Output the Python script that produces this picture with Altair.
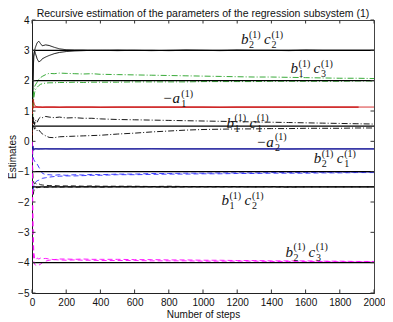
import altair as alt
import pandas as pd

# ---------------- data ----------------
steps = [0, 3, 6, 10, 15, 20, 30, 40, 50, 60, 80, 100, 130, 160, 200, 250, 300, 350,
         400, 500, 600, 700, 800, 900, 1000, 1100, 1200, 1300, 1400, 1500, 1600,
         1700, 1800, 1900, 2000]

b2c2_a = [0, 1.0, 2.0, 2.8, 3.0, 3.1, 3.25, 3.3, 3.22, 3.15, 3.18, 3.16, 3.1, 3.05, 3.02,
          3.01, 3.01, 3.0, 3.0, 3.01, 3.0, 2.99, 3.0, 3.01, 3.0, 3.0, 3.01, 3.0, 3.0, 3.0,
          3.01, 3.0, 3.0, 3.0, 3.0]
b2c2_b = [0, 1.0, 2.0, 2.8, 3.0, 2.9, 2.72, 2.62, 2.65, 2.72, 2.78, 2.83, 2.89, 2.93, 2.96,
          2.98, 2.99, 3.0, 3.0, 2.99, 3.0, 3.0, 2.99, 3.0, 3.0, 2.99, 3.0, 3.0, 3.0, 2.99,
          3.0, 3.0, 3.0, 3.0, 3.0]
b1c3_a = [0, 0.8, 1.4, 1.7, 1.8, 1.86, 1.95, 2.05, 2.1, 2.14, 2.2, 2.24, 2.23, 2.25, 2.24,
          2.23, 2.22, 2.23, 2.21, 2.2, 2.19, 2.18, 2.17, 2.16, 2.15, 2.14, 2.13, 2.12, 2.12,
          2.11, 2.1, 2.09, 2.08, 2.08, 2.07]
b1c3_b = [0, 0.6, 1.1, 1.4, 1.6, 1.7, 1.78, 1.84, 1.88, 1.9, 1.92, 1.93, 1.93, 1.94, 1.94,
          1.95, 1.94, 1.95, 1.95, 1.95, 1.96, 1.96, 1.96, 1.96, 1.97, 1.97, 1.97, 1.97, 1.98,
          1.98, 1.98, 1.98, 1.98, 1.99, 1.99]
neg_a1 = [0, 1.0, 1.38, 1.3, 1.2, 1.16, 1.14, 1.13, 1.13, 1.12, 1.13, 1.13, 1.13, 1.12, 1.13,
          1.13, 1.13, 1.13, 1.12, 1.13, 1.13, 1.13, 1.13, 1.13, 1.13, 1.12, 1.13, 1.13, 1.13,
          1.13, 1.13, 1.13, 1.13, 1.13, 1.13]
b1c1_a = [0, 0.9, 0.6, 0.75, 0.55, 0.7, 0.62, 0.75, 0.8, 0.78, 0.82, 0.8, 0.78, 0.8, 0.77,
          0.78, 0.76, 0.76, 0.74, 0.72, 0.71, 0.7, 0.69, 0.68, 0.67, 0.66, 0.65, 0.64, 0.63,
          0.62, 0.61, 0.6, 0.59, 0.58, 0.57]
b1c1_b = [0, 0.3, 0.8, 0.5, 0.4, 0.45, 0.35, 0.38, 0.3, 0.25, 0.18, 0.13, 0.12, 0.15, 0.16,
          0.17, 0.18, 0.19, 0.2, 0.24, 0.27, 0.31, 0.34, 0.37, 0.39, 0.4, 0.41, 0.41, 0.42,
          0.42, 0.43, 0.43, 0.43, 0.44, 0.44]
neg_a2 = [0, -0.5, -0.15, -0.3, -0.27, -0.24, -0.25, -0.26, -0.25, -0.25, -0.24, -0.25, -0.25,
          -0.25, -0.26, -0.25, -0.25, -0.25, -0.25, -0.25, -0.25, -0.24, -0.25, -0.25, -0.25,
          -0.25, -0.25, -0.25, -0.25, -0.26, -0.25, -0.25, -0.25, -0.25, -0.25]
b2c1_a = [0, -0.4, -0.5, -0.6, -0.65, -0.7, -0.75, -0.85, -0.95, -1.05, -1.1, -1.1, -1.12,
          -1.1, -1.12, -1.1, -1.11, -1.09, -1.1, -1.08, -1.08, -1.06, -1.06, -1.05, -1.05,
          -1.04, -1.04, -1.04, -1.03, -1.03, -1.03, -1.02, -1.02, -1.02, -1.01]
b2c1_b = [0, -1.2, -1.6, -1.5, -1.4, -1.35, -1.3, -1.28, -1.25, -1.22, -1.2, -1.18, -1.16,
          -1.15, -1.14, -1.14, -1.13, -1.12, -1.12, -1.1, -1.1, -1.09, -1.08, -1.08, -1.07,
          -1.07, -1.06, -1.06, -1.05, -1.05, -1.05, -1.04, -1.04, -1.03, -1.03]
b1c2_a = [0, -0.8, -1.2, -1.35, -1.4, -1.38, -1.42, -1.4, -1.43, -1.44, -1.45, -1.46, -1.46,
          -1.47, -1.47, -1.47, -1.48, -1.47, -1.48, -1.48, -1.48, -1.49, -1.48, -1.49, -1.49,
          -1.49, -1.49, -1.5, -1.49, -1.5, -1.5, -1.5, -1.5, -1.5, -1.5]
b1c2_b = [0, -1.6, -1.8, -1.65, -1.55, -1.52, -1.53, -1.52, -1.51, -1.52, -1.51, -1.51, -1.5,
          -1.51, -1.5, -1.51, -1.5, -1.5, -1.51, -1.5, -1.5, -1.5, -1.51, -1.5, -1.5, -1.5,
          -1.5, -1.5, -1.5, -1.51, -1.5, -1.5, -1.5, -1.5, -1.5]
b2c3_a = [0, -1.5, -2.8, -3.6, -3.85, -3.9, -3.85, -3.88, -3.85, -3.87, -3.86, -3.88, -3.9,
          -3.88, -3.88, -3.89, -3.88, -3.89, -3.89, -3.89, -3.9, -3.9, -3.91, -3.91, -3.92,
          -3.92, -3.93, -3.93, -3.94, -3.94, -3.94, -3.95, -3.95, -3.96, -3.96]
b2c3_b = [0, -2.0, -3.4, -3.95, -4.05, -4.08, -4.1, -4.08, -4.05, -4.0, -3.95, -3.92, -3.9,
          -3.91, -3.92, -3.91, -3.92, -3.92, -3.93, -3.93, -3.93, -3.94, -3.94, -3.94, -3.95,
          -3.95, -3.95, -3.95, -3.96, -3.96, -3.96, -3.96, -3.97, -3.97, -3.97]

est_names = ["b2c2_a", "b2c2_b", "b1c3_a", "b1c3_b", "neg_a1", "b1c1_a", "b1c1_b",
             "neg_a2", "b2c1_a", "b2c1_b", "b1c2_a", "b1c2_b", "b2c3_a", "b2c3_b"]
est_values = [b2c2_a, b2c2_b, b1c3_a, b1c3_b, neg_a1, b1c1_a, b1c1_b,
              neg_a2, b2c1_a, b2c1_b, b1c2_a, b1c2_b, b2c3_a, b2c3_b]

true_names = ["b2c2", "b1c3", "-a1", "b1c1", "-a2", "b2c1", "b1c2", "b2c3"]
true_values = [3, 2, 1.13, 0.5, -0.25, -1, -1.5, -4]
true_start = [0, 0, 0, 0, 0, 0, 0, 0]
true_end = [2000, 2000, 1910, 2000, 2000, 2000, 2000, 2000]

x_ticks = [0, 200, 400, 600, 800, 1000, 1200, 1400, 1600, 1800, 2000]
y_ticks = [-5, -4, -3, -2, -1, 0, 1, 2, 3, 4]

# label anchors and parts (base1, sub1, base2, sub2)
label_anchor_x = [1222, 1512, 762, 1137, 1310, 1647, 1108, 1483]
label_anchor_y = [3.2, 2.25, 1.25, 0.45, -0.18, -0.73, -2.1, -3.81]
label_parts = [("b", "2", "c", "2"), ("b", "1", "c", "3"), ("\u2212a", "1", None, None),
               ("b", "1", "c", "1"), ("\u2212a", "2", None, None), ("b", "2", "c", "1"),
               ("b", "1", "c", "2"), ("b", "2", "c", "3")]

TITLE = "Recursive estimation of the parameters of the regression subsystem (1)"

# ---------------- styles ----------------
W, H = 342, 273
est_colors = ["#000000", "#000000", "#22a022", "#22a022", "#d01010", "#000000", "#000000",
              "#1a1aa0", "#2a2aff", "#2a2aff", "#000000", "#000000", "#ff00ff", "#ff00ff"]
DD = [6, 2, 1, 2]
DS = [5, 3]
SOL = [1, 0]
est_dash = [SOL, SOL, DD, DD, SOL, DD, DD, SOL, DS, DS, DS, DS, DS, DS]
true_colors = ["#000000", "#000000", "#c81010", "#000000", "#1c1c9a", "#000000", "#000000",
               "#000000"]

# ---------------- tables ----------------
rows = []
for name, vals in zip(est_names, est_values):
    for s, v in zip(steps, vals):
        rows.append({"step": s, "value": v, "name": name})
est_df = pd.DataFrame(rows)
true_df = pd.DataFrame({"name": true_names, "value": true_values,
                        "step": true_start, "x1": true_end})
xt_df = pd.DataFrame({"step": x_ticks})
yt_df = pd.DataFrame({"value": y_ticks})

px2x = 2000 / W
px2y = 9 / H
base_rows, script_rows = [], []
for ax, ay, parts in zip(label_anchor_x, label_anchor_y, label_parts):
    b1, s1, b2, s2 = parts
    if b2 is None:
        base_rows.append({"step": ax, "value": ay, "txt": b1})
        sx = ax + 19 * px2x
        script_rows.append({"step": sx, "value": ay - 4 * px2y, "txt": s1})
        script_rows.append({"step": sx, "value": ay + 6.5 * px2y, "txt": "(1)"})
    else:
        base_rows.append({"step": ax, "value": ay, "txt": b1})
        sx = ax + 8 * px2x
        script_rows.append({"step": sx, "value": ay - 4 * px2y, "txt": s1})
        script_rows.append({"step": sx, "value": ay + 6.5 * px2y, "txt": "(1)"})
        cx = ax + 23 * px2x
        base_rows.append({"step": cx, "value": ay, "txt": b2})
        sx2 = ax + 30.5 * px2x
        script_rows.append({"step": sx2, "value": ay - 4 * px2y, "txt": s2})
        script_rows.append({"step": sx2, "value": ay + 6.5 * px2y, "txt": "(1)"})
base_df = pd.DataFrame(base_rows)
script_df = pd.DataFrame(script_rows)

# ---------------- encodings ----------------
xscale = alt.Scale(domain=[0, 2000], nice=False, zero=False)
yscale = alt.Scale(domain=[-5, 4], nice=False, zero=False)
xaxis = alt.Axis(values=x_ticks, title="Number of steps", format="d",
                 labelPadding=4, titlePadding=2, labelFlush=False)
yaxis = alt.Axis(values=y_ticks, title="Estimates", format="d",
                 labelPadding=3, titlePadding=0, labelFlush=False)


def X(f):
    return alt.X(f"{f}:Q", scale=xscale, axis=xaxis)


def Y(f):
    return alt.Y(f"{f}:Q", scale=yscale, axis=yaxis)


est = alt.Chart(est_df).mark_line(strokeWidth=0.9, clip=True).encode(
    x=X("step"), y=Y("value"),
    color=alt.Color("name:N", scale=alt.Scale(domain=est_names, range=est_colors), legend=None),
    strokeDash=alt.StrokeDash("name:N", scale=alt.Scale(domain=est_names, range=est_dash),
                              legend=None),
    detail="name:N",
)

truth = alt.Chart(true_df).mark_rule(strokeWidth=1.2).encode(
    x=X("step"), x2="x1:Q", y=Y("value"),
    color=alt.Color("name:N", scale=alt.Scale(domain=true_names, range=true_colors),
                    legend=None),
)

tick_style = dict(color="#333333", strokeWidth=1)
tb = alt.Chart(xt_df).mark_rule(**tick_style).encode(x=X("step"), y=alt.value(H), y2=alt.value(H - 3.5))
tt = alt.Chart(xt_df).mark_rule(**tick_style).encode(x=X("step"), y=alt.value(0), y2=alt.value(3.5))
tl = alt.Chart(yt_df).mark_rule(**tick_style).encode(y=Y("value"), x=alt.value(0), x2=alt.value(3.5))
tr = alt.Chart(yt_df).mark_rule(**tick_style).encode(y=Y("value"), x=alt.value(W), x2=alt.value(W - 3.5))

lab_base = alt.Chart(base_df).mark_text(
    align="left", baseline="alphabetic", font="Liberation Serif", fontStyle="italic",
    fontSize=15, color="#111111").encode(x=X("step"), y=Y("value"), text="txt:N")
lab_script = alt.Chart(script_df).mark_text(
    align="left", baseline="alphabetic", font="Liberation Serif",
    fontSize=10, color="#111111").encode(x=X("step"), y=Y("value"), text="txt:N")

chart = alt.layer(est, truth, tb, tt, tl, tr, lab_base, lab_script).resolve_scale(
    color="independent", strokeDash="independent"
).properties(
    width=W, height=H,
    title=alt.TitleParams(TITLE, font="Liberation Sans", fontSize=10.5, fontWeight="normal",
                          color="#111111", anchor="middle", offset=2, dy=6),
    autosize=alt.AutoSizeParams(type="none"),
    padding={"left": 24, "top": 12, "right": 11, "bottom": 30},
).configure_axis(
    labelFont="Liberation Sans", titleFont="Liberation Sans", labelFontSize=10,
    titleFontSize=10, titleFontWeight="normal", labelColor="#111111", titleColor="#111111",
    domainColor="#222222", ticks=False, grid=False,
).configure_view(stroke="#444444", strokeWidth=1)

chart.save("out.html", embed_options={"renderer": "svg", "actions": False})
